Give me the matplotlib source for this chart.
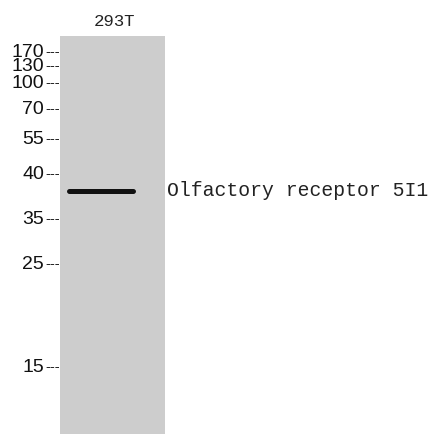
import matplotlib.pyplot as plt
from matplotlib.patches import Rectangle

# marker sizes (kDa) and where they ran on the blot (pixels from top)
marker_kda = ['170', '130', '100', '70', '55', '40', '35', '25', '15']
marker_pos = [52, 66, 83, 109, 139, 174, 219, 264, 367]

lane_names = ['293T']
band_pos = [191]
band_names = ['Olfactory receptor 5I1']

fig = plt.figure(figsize=(4.32, 4.34), dpi=100)
ax = fig.add_axes([0, 0, 1, 1])
ax.set_xlim(0, 432)
ax.set_ylim(434, 0)
ax.axis('off')

# lane
lane_left, lane_w = 60, 105
ax.add_patch(Rectangle((lane_left, 36), lane_w, 400, color='#cdcdcd', lw=0))
ax.text(lane_left + lane_w / 2 + 2, 22, lane_names[0], ha='center', va='center',
        fontsize=12.5, family='Liberation Mono', color='#222222')

# marker ladder: number then thin dashes
for lab, y in zip(marker_kda, marker_pos):
    ax.text(44, y + 0.5, lab, ha='right', va='center', fontsize=14,
            family='Liberation Sans', color='#111111')
    ax.text(45, y, '---', ha='left', va='center', fontsize=10.5,
            family='Liberation Sans', color='#222222')

# band + label
for y, name in zip(band_pos, band_names):
    ax.plot([69, 133], [y, y], color='#111111', lw=3.6, solid_capstyle='round')
    ax.text(167, y, name, ha='left', va='center', fontsize=14.2,
            family='Liberation Mono', color='#222222')

plt.savefig('out.png', dpi=100)
